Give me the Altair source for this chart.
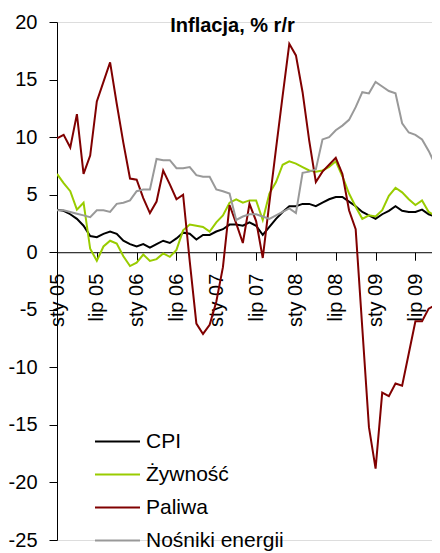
import altair as alt
import pandas as pd

# ---- data (monthly, Jan 2005 - Oct 2009) ----
months_pl = ["sty", "lut", "mar", "kwi", "maj", "cze", "lip", "sie", "wrz", "paź", "lis", "gru"]
years = ["05", "06", "07", "08", "09"]

cpi = [3.7, 3.6, 3.3, 2.9, 2.3, 1.4, 1.3, 1.6, 1.8, 1.6, 1.0, 0.7,
       0.5, 0.7, 0.4, 0.7, 1.0, 0.8, 1.2, 1.7, 1.6, 1.1, 1.5, 1.5,
       1.8, 2.0, 2.4, 2.4, 2.3, 2.6, 2.3, 1.5, 2.2, 2.9, 3.5, 4.0,
       4.0, 4.2, 4.2, 4.0, 4.3, 4.6, 4.8, 4.8, 4.4, 4.0, 3.5, 3.2,
       2.9, 3.3, 3.6, 4.0, 3.6, 3.5, 3.5, 3.7, 3.3, 3.1]

zywnosc = [6.8, 6.0, 5.3, 3.7, 4.3, 0.3, -0.75, 0.5, 1.0, 0.75, -0.35, -1.2,
           -0.9, -0.2, -0.75, -0.6, -0.1, -0.4, 0.2, 1.9, 2.4, 2.3, 2.2, 1.8,
           2.6, 3.2, 4.3, 4.6, 4.3, 4.5, 4.5, 2.8, 5.1, 6.1, 7.6, 7.9,
           7.7, 7.4, 7.1, 7.0, 7.1, 7.4, 7.9, 6.6, 5.1, 3.95, 2.9, 3.2,
           3.1, 3.65, 4.9, 5.6, 5.2, 4.6, 4.1, 4.5, 3.5, 3.15]

paliwa = [9.9, 10.2, 9.1, 12.0, 6.8, 8.4, 13.1, 14.8, 16.5, 12.9, 9.5, 6.4,
          6.3, 4.7, 3.4, 4.4, 7.1, 5.9, 4.6, 5.0, -0.8, -6.2, -7.1, -6.3,
          -4.3, -1.3, 4.1, 2.5, 0.8, 4.2, 2.7, -0.5, 4.3, 9.0, 13.6, 18.1,
          17.1, 13.9, 9.7, 6.1, 7.0, 7.6, 8.2, 6.8, 3.65, 2.0, -6.6, -15.2,
          -18.8, -12.2, -12.5, -11.4, -11.6, -8.8, -6.0, -6.0, -4.9, -4.6]

nosniki = [3.65, 3.65, 3.5, 3.35, 3.2, 3.05, 3.65, 3.65, 3.5, 4.2, 4.3, 4.5,
           5.3, 5.45, 5.45, 8.1, 8.0, 8.0, 7.3, 7.3, 7.4, 6.7, 6.55, 6.55,
           5.45, 5.3, 5.1, 2.8, 3.1, 3.3, 3.3, 3.1, 2.9, 3.2, 3.5, 3.8,
           3.4, 6.9, 7.0, 7.2, 9.8, 10.0, 10.6, 11.0, 11.5, 12.6, 13.9, 13.8,
           14.8, 14.4, 14.0, 13.8, 11.2, 10.4, 10.2, 9.8, 8.8, 7.6]

series_names = ["CPI", "Żywność", "Paliwa", "Nośniki energii"]
series_colors = ["#000000", "#99CC00", "#800000", "#999999"]

tick_positions = [0, 6, 12, 18, 24, 30, 36, 42, 48, 54]
tick_labels = ["sty 05", "lip 05", "sty 06", "lip 06", "sty 07",
               "lip 07", "sty 08", "lip 08", "sty 09", "lip 09"]

y_ticks = [20, 15, 10, 5, 0, -5, -10, -15, -20, -25]

month_labels = [f"{m} {y}" for y in years for m in months_pl][:len(cpi)]

rows = []
for name, vals in zip(series_names, [cpi, zywnosc, paliwa, nosniki]):
    for i, v in enumerate(vals):
        rows.append({"idx": i, "miesiac": month_labels[i], "seria": name, "wartosc": v})
df = pd.DataFrame(rows)

# ---- layout ----
W = 375            # keeps the whole svg inside the 424px-wide page body
H = 518
x_visible_end = 56.5   # the picture is cut at its right edge
y_min, y_max = -25, 20
x_axis_offset = -H * (0 - y_min) / (y_max - y_min)   # puts the x axis on the zero line

label_js = "[" + ",".join("'" + t + "'" for t in tick_labels) + "]"
x_label_expr = label_js + "[round(datum.value / 6)]"

FONT = "Liberation Sans"

chart = alt.Chart(df).mark_line(strokeWidth=2, clip=True).encode(
    x=alt.X("idx:Q",
            scale=alt.Scale(domain=[0, x_visible_end], nice=False, zero=False),
            axis=alt.Axis(values=tick_positions, labelExpr=x_label_expr,
                          labelAngle=270, tickSize=8, labelPadding=13,
                          offset=x_axis_offset, grid=False, title=None,
                          domainColor="black", tickColor="black",
                          labelColor="black", labelFontSize=20, labelFont=FONT)),
    y=alt.Y("wartosc:Q",
            scale=alt.Scale(domain=[y_min, y_max], nice=False),
            axis=alt.Axis(values=y_ticks, labelExpr="'' + datum.value",
                          tickSize=8, labelPadding=12, grid=False, title=None,
                          domainColor="black", tickColor="black",
                          labelColor="black", labelFontSize=20, labelFont=FONT)),
    color=alt.Color("seria:N",
                    scale=alt.Scale(domain=series_names, range=series_colors),
                    legend=alt.Legend(orient="none", legendX=50, legendY=409,
                                      title=None, labelFontSize=21, labelFont=FONT,
                                      labelColor="black",
                                      symbolType="M-3,0H3", symbolSize=225,
                                      symbolStrokeWidth=2, labelOffset=18,
                                      rowPadding=11, padding=0)),
    order=alt.Order("idx:Q"),
).properties(
    width=W,
    height=H,
    title=alt.TitleParams("Inflacja, % r/r", anchor="middle", frame="group",
                          offset=0, dy=40, dx=-12, baseline="alphabetic",
                          fontSize=20, font=FONT, fontWeight="bold", color="black"),
    autosize=alt.AutoSizeParams(type="none"),
    padding={"left": 49, "top": 14, "right": 0, "bottom": 16},
).configure_view(strokeWidth=0).configure(font=FONT)

chart.save("out.html", embed_options={"renderer": "svg", "actions": False})
